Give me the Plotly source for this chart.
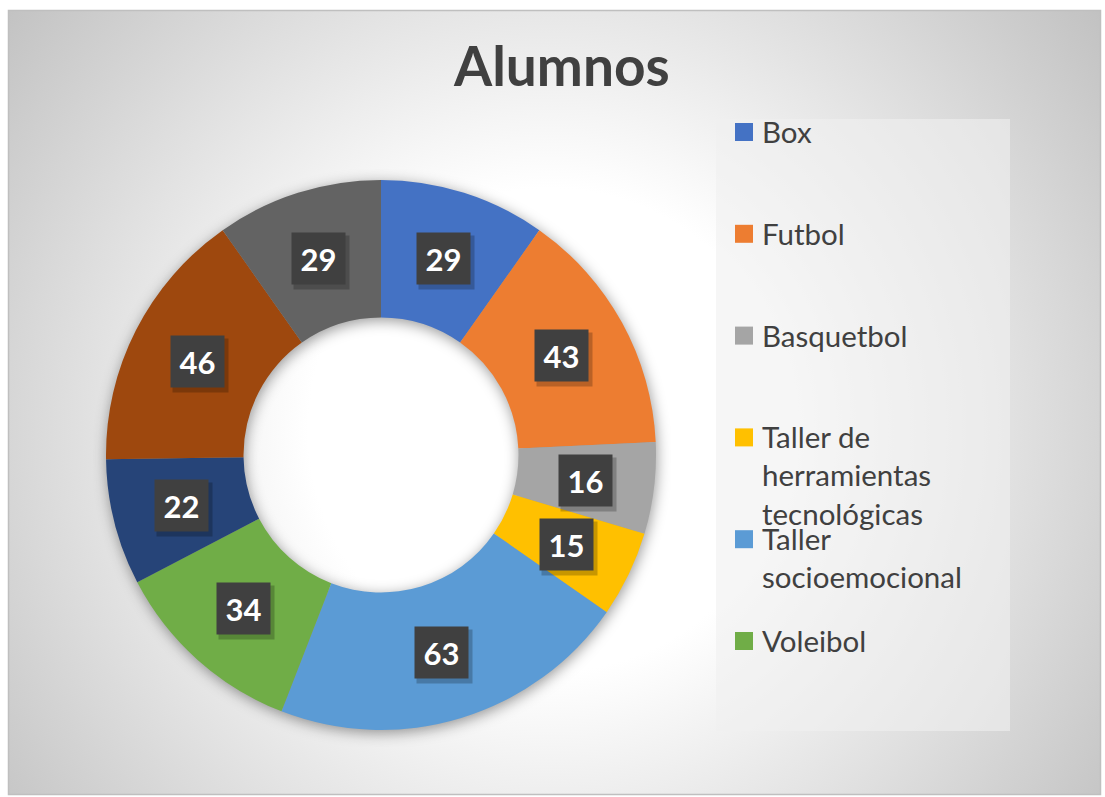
import base64
import math
import plotly.graph_objects as go

# ---- data ----
labels = ["Box", "Futbol", "Basquetbol", "Taller de herramientas tecnológicas",
          "Taller socioemocional", "Voleibol", "Categoría 7", "Categoría 8", "Categoría 9"]
values = [29, 43, 16, 15, 63, 34, 22, 46, 29]
colors = ["#4472C4", "#ED7D31", "#A5A5A5", "#FFC000", "#5B9BD5", "#70AD47",
          "#264478", "#9E480E", "#636363"]
legend_text = ["Box", "Futbol", "Basquetbol", "Taller de<br>herramientas<br>tecnológicas",
               "Taller<br>socioemocional", "Voleibol"]
title = "Alumnos"

W, H = 1105, 797
CX, CY, R_OUT = 381, 455, 275
HOLE = 0.5
R_IN = R_OUT * HOLE


def px(x):
    return x / W


def py(y):
    return 1 - y / H


# ---- background (radial gradient + donut glow) as SVG ----
svg = f'''<svg xmlns="http://www.w3.org/2000/svg" width="{W}" height="{H}" viewBox="0 0 {W} {H}">
<defs>
<radialGradient id="g" gradientUnits="userSpaceOnUse" cx="550" cy="430" r="690">
<stop offset="0" stop-color="#ffffff"/>
<stop offset="0.35" stop-color="#ffffff"/>
<stop offset="1" stop-color="#c2c2c2"/>
</radialGradient>
<filter id="b" x="-20%" y="-20%" width="140%" height="140%"><feGaussianBlur stdDeviation="7"/></filter>
<filter id="s" x="-30%" y="-30%" width="160%" height="160%"><feGaussianBlur stdDeviation="2.5"/></filter>
</defs>
<rect x="0" y="0" width="{W}" height="{H}" fill="#ffffff"/>
<rect x="8.5" y="10.5" width="1092" height="784" fill="url(#g)" stroke="#bfbfbf" stroke-width="1.5"/>
<circle cx="{CX+1}" cy="{CY+3}" r="{(R_OUT+R_IN)/2}" fill="none" stroke="#000" stroke-opacity="0.4"
 stroke-width="{R_OUT-R_IN}" filter="url(#b)"/>
</svg>'''
svg_uri = "data:image/svg+xml;base64," + base64.b64encode(svg.encode()).decode()

fig = go.Figure()
fig.add_trace(go.Pie(
    labels=labels, values=values, hole=HOLE, sort=False, direction="clockwise",
    rotation=0, textinfo="none", hoverinfo="label+value",
    marker=dict(colors=colors, line=dict(width=0)),
    domain=dict(x=[px(CX - R_OUT), px(CX + R_OUT)], y=[py(CY + R_OUT), py(CY - R_OUT)]),
    showlegend=False,
))

annotations = []
shapes = []

# data labels
total = sum(values)
cum = 0
r_mid = (R_OUT + R_IN) / 2
for v in values:
    ang = 2 * math.pi * (cum + v / 2) / total
    cum += v
    x = CX + r_mid * math.sin(ang)
    y = CY - r_mid * math.cos(ang)
    annotations.append(dict(x=px(x), y=py(y), xref="paper", yref="paper", text=" ",
                            xanchor="center", yanchor="middle",
                            showarrow=False, bgcolor="rgba(0,0,0,0.22)", width=55, height=53,
                            xshift=3, yshift=-4, borderpad=0,
                            font=dict(family="Lato", size=31)))
    annotations.append(dict(x=px(x), y=py(y), xref="paper", yref="paper", text=f"<b>{v}</b>",
                            xanchor="center", yanchor="middle",
                            showarrow=False, bgcolor="#404040", width=53, height=51, borderpad=0,
                            font=dict(family="Lato", size=31, color="white")))

# legend panel
shapes.append(dict(type="rect", xref="paper", yref="paper", x0=px(716), x1=px(1010),
                   y0=py(731), y1=py(119), fillcolor="rgba(240,240,240,0.6)",
                   line=dict(width=0), layer="below"))

# legend entries (first six visible as in reference)
for i, t in enumerate(legend_text):
    yc = 132 + i * 101.8
    shapes.append(dict(type="rect", xref="paper", yref="paper", x0=px(735), x1=px(753),
                       y0=py(yc + 9), y1=py(yc - 9), fillcolor=colors[i], line=dict(width=0)))
    annotations.append(dict(x=px(760), y=py(yc - 20), xref="paper", yref="paper", text=t,
                            showarrow=False, xanchor="left", yanchor="top", align="left",
                            font=dict(family="Lato", size=29.5, color="#404040")))

# title
annotations.append(dict(x=px(561), y=py(65), xref="paper", yref="paper",
                        text=f"<b>{title}</b>", showarrow=False, xanchor="center", yanchor="middle",
                        font=dict(family="Lato", size=55, color="#404040")))

fig.update_layout(
    width=W, height=H, autosize=False,
    margin=dict(l=0, r=0, t=0, b=0, pad=0),
    paper_bgcolor="white", plot_bgcolor="white",
    images=[dict(source=svg_uri, xref="paper", yref="paper", x=0, y=1, sizex=1, sizey=1,
                 xanchor="left", yanchor="top", sizing="stretch", layer="below")],
    shapes=shapes, annotations=annotations,
)

fig.write_html("out.html")
